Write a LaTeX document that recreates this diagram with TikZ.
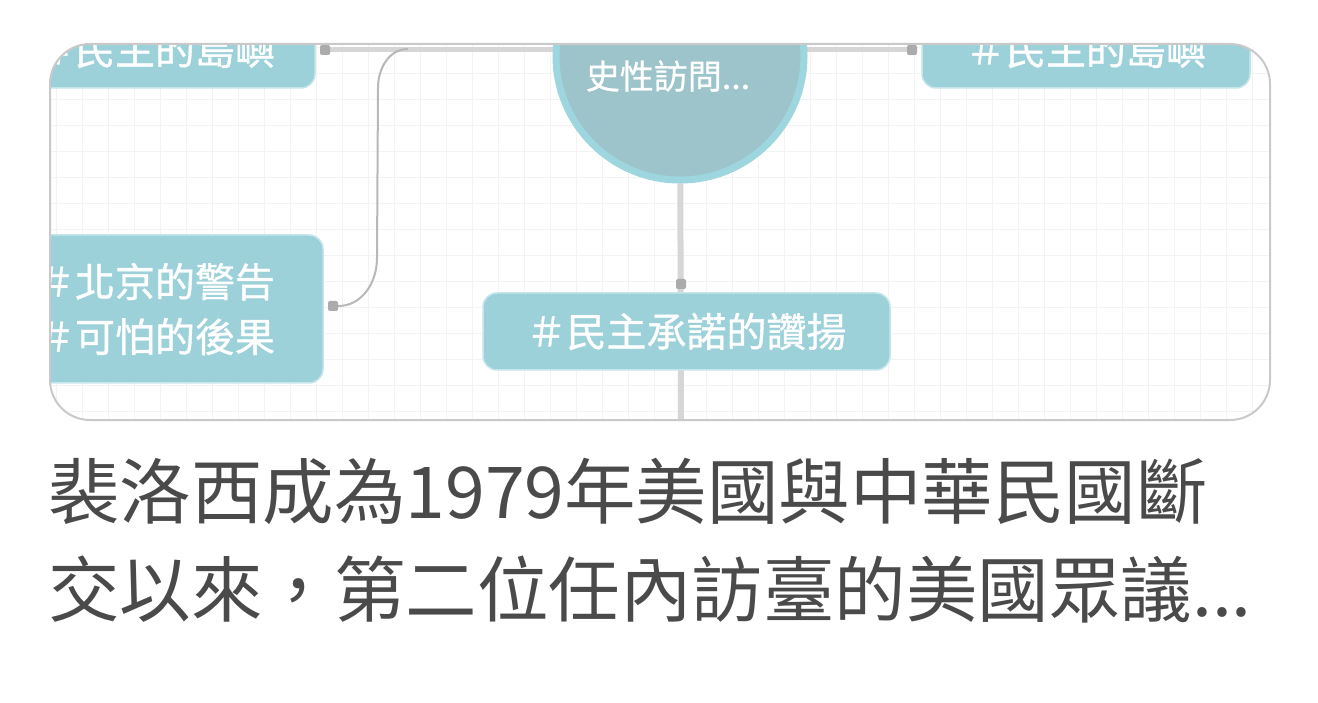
\documentclass[tikz,border=0pt]{standalone}
\usepackage{fontspec}
\newfontfamily\cjk{Noto Sans CJK TC}
\newfontfamily\cjkb[FakeBold=0.8]{Noto Sans CJK TC}
\definecolor{boxfill}{HTML}{9DD1D9}
\definecolor{boxedge}{HTML}{C4E6EB}
\definecolor{circfill}{HTML}{9CC4CA}
\definecolor{circedge}{HTML}{9ED6E0}
\definecolor{captc}{HTML}{4A4A4A}
\definecolor{gridc}{HTML}{F3F3F3}
\definecolor{cardc}{HTML}{C9C9C9}
\definecolor{hlinec}{HTML}{D6D6D6}
\definecolor{curvec}{HTML}{B8B8B8}
\definecolor{dotc}{HTML}{ABABAB}
\pgfdeclarelayer{bg}
\pgfdeclarelayer{lines}
\pgfsetlayers{bg,lines,main}
\begin{document}
\begin{tikzpicture}[x=1pt,y=-1pt,
  tagbox/.style={fill=boxfill, draw=boxedge, line width=1.5pt, rounded corners=14pt,
    text=white, font=\cjkb\fontsize{40}{55}\selectfont, inner sep=0pt, align=center},
  hubcircle/.style={circle, fill=circfill, draw=circedge, line width=7pt, inner sep=0pt,
    minimum size=248pt},
  hubtext/.style={text=white, font=\cjkb\fontsize{34}{40}\selectfont, inner sep=0pt},
  joint/.style={rectangle, fill=dotc, minimum size=10pt, inner sep=0pt, rounded corners=2pt},
  hline/.style={draw=hlinec, line width=5pt},
  vline/.style={draw=hlinec, line width=6pt},
  curveline/.style={draw=curvec, line width=2pt},
  gridline/.style={draw=gridc, line width=0.8pt},
  caption/.style={text=captc, font=\cjk\fontsize{71.5}{98}\selectfont, inner sep=0pt, anchor=base west},
  cardedge/.style={draw=cardc, line width=2pt, rounded corners=40pt}]
\useasboundingbox (0,0) rectangle (1318,703);
\begin{pgfonlayer}{bg}
  \fill[white] (0,0) rectangle (1318,703);
  \begin{scope}
    \clip[rounded corners=40pt] (50,44) rectangle (1270,420);
    \foreach \gx in {4,30,...,1300} \draw[gridline] (\gx,40) -- (\gx,425);
    \foreach \gy in {47,73,...,430} \draw[gridline] (45,\gy) -- (1275,\gy);
  \end{scope}
\end{pgfonlayer}
\begin{scope}
  \clip[rounded corners=40pt] (50,44) rectangle (1270,420);
  \node[tagbox, minimum width=320pt, minimum height=77pt] (tl) at (155,49.5) {＃民主的島嶼};
  \node[tagbox, minimum width=328pt, minimum height=77pt] (tr) at (1086,49.5) {＃民主的島嶼};
  \node[tagbox, minimum width=407pt, minimum height=77pt] (mid) at (686.5,331.5) {＃民主承諾的讚揚};
  \node[tagbox, minimum width=336pt, minimum height=148pt, align=left] (lb) at (155,309) {＃北京的警告\\＃可怕的後果};
  \node[hubcircle] (hub) at (680,56) {};
  \node[hubtext] (hubt) at (668,76) {史性訪問...};
  \node[joint] (d1) at (325,50) {};
  \node[joint] (d2) at (912,50) {};
  \node[joint] (d3) at (681,284) {};
  \node[joint] (d4) at (333,306) {};
  \coordinate (cs) at (408,49);
  \coordinate (cb1) at (378,88);
  \coordinate (cb2) at (377,258);
  \coordinate (vb) at (681,430);
  \begin{pgfonlayer}{lines}
    \begin{scope}
      \clip[rounded corners=40pt] (50,44) rectangle (1270,420);
      \draw[hline] (d1) -- (d2);
      \draw[vline] (hub) -- (vb);
      \draw[curveline] (cs) to[out=180,in=90] (cb1) -- (cb2) to[out=-90,in=0] (d4);
    \end{scope}
  \end{pgfonlayer}
\end{scope}
\draw[cardedge] (50,44) rectangle (1270,420);
\node[caption] (cap1) at (48,518) {裴洛西成為1979年美國與中華民國斷};
\node[caption] (cap2) at (48,616) {交以來，第二位任內訪臺的美國眾議...};
\end{tikzpicture}
\end{document}
